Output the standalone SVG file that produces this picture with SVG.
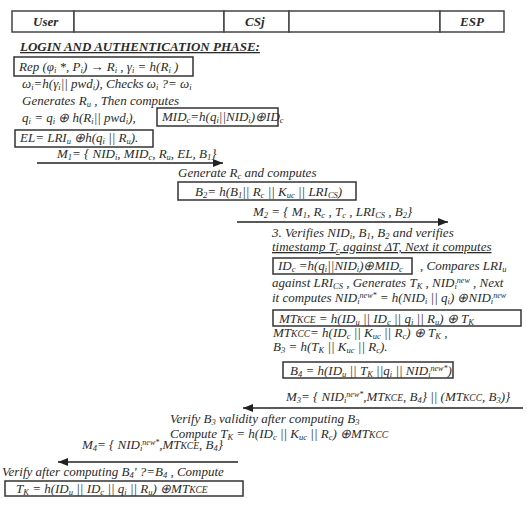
<svg xmlns="http://www.w3.org/2000/svg" width="527" height="505" viewBox="0 0 527 505">
<style>
.t{font-family:"Liberation Serif","Times New Roman",serif;font-style:italic;font-size:13px;fill:#2b2b2b}
.b{font-weight:bold}
.s{font-size:8.5px;baseline-shift:-2px}
.p{font-size:8px;baseline-shift:4px}
.k{font-size:9.5px}
.box{fill:none;stroke:#333;stroke-width:1.5}
.hd{fill:#fff;stroke:#444;stroke-width:1.5}
.ln{stroke:#222;stroke-width:1.5;fill:none}
</style>
<defs>
<marker id="ah" viewBox="0 0 10 8" refX="10" refY="4" markerWidth="10" markerHeight="8" markerUnits="userSpaceOnUse" orient="auto">
<path d="M0,0 L10,4 L0,8 z" fill="#222"/>
</marker>
</defs>
<g id="header">
<rect class="hd" x="12" y="11" width="62" height="21"/>
<rect class="hd" x="74" y="11" width="150" height="21"/>
<rect class="hd" x="224" y="11" width="65" height="21"/>
<rect class="hd" x="289" y="11" width="151" height="21"/>
<rect class="hd" x="440" y="11" width="64" height="21"/>
<text class="t b" x="33" y="26">User</text>
<text class="t b" x="245" y="26">CSj</text>
<text class="t b" x="460" y="26">ESP</text>
</g>
<g id="title">
<text class="t b" x="20" y="51" font-size="12" text-decoration="underline">LOGIN AND AUTHENTICATION PHASE:</text>
</g>
<g id="rep">
<rect class="box" x="14" y="57" width="179" height="19"/>
<text class="t" x="19" y="71">Rep (φ<tspan class="s">i</tspan> *, P<tspan class="s">i</tspan>)  → R<tspan class="s">i</tspan> , γ<tspan class="s">i</tspan> = h(R<tspan class="s">i</tspan> )</text>
</g>
<g id="user-compute">
<text class="t" x="22" y="88">ω<tspan class="s">i</tspan>=h(γ<tspan class="s">i</tspan>|| pwd<tspan class="s">i</tspan>), Checks ω<tspan class="s">i</tspan>  ?=  ω<tspan class="s">i</tspan></text>
<text class="t" x="22" y="105">Generates R<tspan class="s">u</tspan> , Then computes</text>
<text class="t" x="22" y="122">q<tspan class="s">i</tspan> = q<tspan class="s">i</tspan> ⊕ h(R<tspan class="s">i</tspan>|| pwd<tspan class="s">i</tspan>),</text>
</g>
<g id="mid">
<rect class="box" x="157" y="108" width="121" height="18"/>
<text class="t" x="162" y="121">MID<tspan class="s">c</tspan>=h(q<tspan class="s">i</tspan>||NID<tspan class="s">i</tspan>)⊕ID<tspan class="s">c</tspan></text>
</g>
<g id="el">
<rect class="box" x="15" y="130" width="138" height="17"/>
<text class="t" x="20" y="142">EL= LRI<tspan class="s">u</tspan> ⊕h(q<tspan class="s">i</tspan> || R<tspan class="s">u</tspan>).</text>
</g>
<g id="cs-compute">
<text class="t" x="178" y="177">Generate R<tspan class="s">c</tspan> and computes</text>
</g>
<g id="b2">
<rect class="box" x="178" y="182" width="178" height="18"/>
<text class="t" x="195" y="196">B<tspan class="s">2</tspan>= h(B<tspan class="s">1</tspan>|| R<tspan class="s">c</tspan> || K<tspan class="s">uc</tspan> || LRI<tspan class="s">CS</tspan>)</text>
</g>
<g id="esp-verify">
<text class="t" x="272" y="237">3. Verifies NID<tspan class="s">i</tspan>, B<tspan class="s">1</tspan>, B<tspan class="s">2</tspan> and verifies</text>
<text class="t" x="272" y="251" text-decoration="underline">timestamp T<tspan class="s">c</tspan> against ΔT, Next it computes</text>
</g>
<g id="idc">
<rect class="box" x="273" y="258" width="139" height="16"/>
<text class="t" x="278" y="270">ID<tspan class="s">c</tspan> =h(q<tspan class="s">i</tspan>||NID<tspan class="s">i</tspan>)⊕MID<tspan class="s">c</tspan></text>
</g>
<g id="esp-compare">
<text class="t" x="420" y="270">, Compares LRI<tspan class="s">u</tspan></text>
<text class="t" x="272" y="287">against LRI<tspan class="s">CS</tspan> , Generates T<tspan class="s">K</tspan> , NID<tspan class="s">i</tspan><tspan class="p">new</tspan> , Next</text>
<text class="t" x="272" y="302">it computes NID<tspan class="s">i</tspan><tspan class="p">new*</tspan> = h(NID<tspan class="s">i</tspan> || q<tspan class="s">i</tspan>) ⊕NID<tspan class="s">i</tspan><tspan class="p">new</tspan></text>
</g>
<g id="mtkce">
<rect class="box" x="273" y="310" width="248" height="16"/>
<text class="t" x="279" y="323" font-size="14">MT<tspan class="k">KCE</tspan> = h(ID<tspan class="s">u</tspan> || ID<tspan class="s">c</tspan> || q<tspan class="s">i</tspan> || R<tspan class="s">u</tspan>) ⊕ T<tspan class="s">K</tspan></text>
</g>
<g id="mtkcc">
<text class="t" x="273" y="337" font-size="12">MT<tspan class="k">KCC</tspan>= h(ID<tspan class="s">c</tspan> || K<tspan class="s">uc</tspan> || R<tspan class="s">c</tspan>) ⊕ T<tspan class="s">K</tspan> ,</text>
<text class="t" x="273" y="351" font-size="12">B<tspan class="s">3</tspan> = h(T<tspan class="s">K</tspan> || K<tspan class="s">uc</tspan> || R<tspan class="s">c</tspan>).</text>
</g>
<g id="b4">
<rect class="box" x="283" y="362" width="170" height="16"/>
<text class="t" x="290" y="375">B<tspan class="s">4</tspan> = h(ID<tspan class="s">u</tspan> ||  T<tspan class="s">K</tspan> ||q<tspan class="s">i</tspan> || NID<tspan class="s">i</tspan><tspan class="p">new*</tspan>)</text>
</g>
<g id="cs-verify">
<text class="t" x="170" y="423">Verify B<tspan class="s">3</tspan> validity after computing B<tspan class="s">3</tspan></text>
<text class="t" x="170" y="438">Compute   T<tspan class="s">K</tspan> = h(ID<tspan class="s">c</tspan> || K<tspan class="s">uc</tspan> || R<tspan class="s">c</tspan>) ⊕MT<tspan class="k">KCC</tspan></text>
</g>
<g id="user-verify">
<text class="t" x="2" y="476">Verify after computing B<tspan class="s">4</tspan>' ?=B<tspan class="s">4</tspan> , Compute</text>
</g>
<g id="tk">
<rect class="box" x="5" y="481" width="238" height="15"/>
<text class="t" x="16" y="493">T<tspan class="s">K</tspan> = h(ID<tspan class="s">u</tspan> || ID<tspan class="s">c</tspan> || q<tspan class="s">i</tspan> || R<tspan class="s">u</tspan>) ⊕MT<tspan class="k">KCE</tspan></text>
</g>
<g id="connectors">
<line class="ln" x1="37" y1="163" x2="223" y2="163" marker-end="url(#ah)"/>
<text class="t" x="57" y="158">M<tspan class="s">1</tspan>= { NID<tspan class="s">i</tspan>, MID<tspan class="s">c</tspan>, R<tspan class="s">u</tspan>, EL, B<tspan class="s">1</tspan>}</text>
<line class="ln" x1="237" y1="222" x2="448" y2="222" marker-end="url(#ah)"/>
<text class="t" x="253" y="216">M<tspan class="s">2</tspan> = { M<tspan class="s">1</tspan>, R<tspan class="s">c</tspan> , T<tspan class="s">c</tspan> , LRI<tspan class="s">CS</tspan> , B<tspan class="s">2</tspan>}</text>
<line class="ln" x1="523" y1="408" x2="243" y2="408" marker-end="url(#ah)"/>
<text class="t" x="286" y="401">M<tspan class="s">3</tspan>= { NID<tspan class="s">i</tspan><tspan class="p">new*</tspan>,MT<tspan class="k">KCE</tspan>, B<tspan class="s">4</tspan>} || (MT<tspan class="k">KCC</tspan>, B<tspan class="s">3</tspan>)}</text>
<line class="ln" x1="238" y1="462" x2="58" y2="462" marker-end="url(#ah)"/>
<text class="t" x="82" y="449">M<tspan class="s">4</tspan>= { NID<tspan class="s">i</tspan><tspan class="p">new*</tspan>,MT<tspan class="k">KCE</tspan>, B<tspan class="s">4</tspan>}</text>
</g>
</svg>
